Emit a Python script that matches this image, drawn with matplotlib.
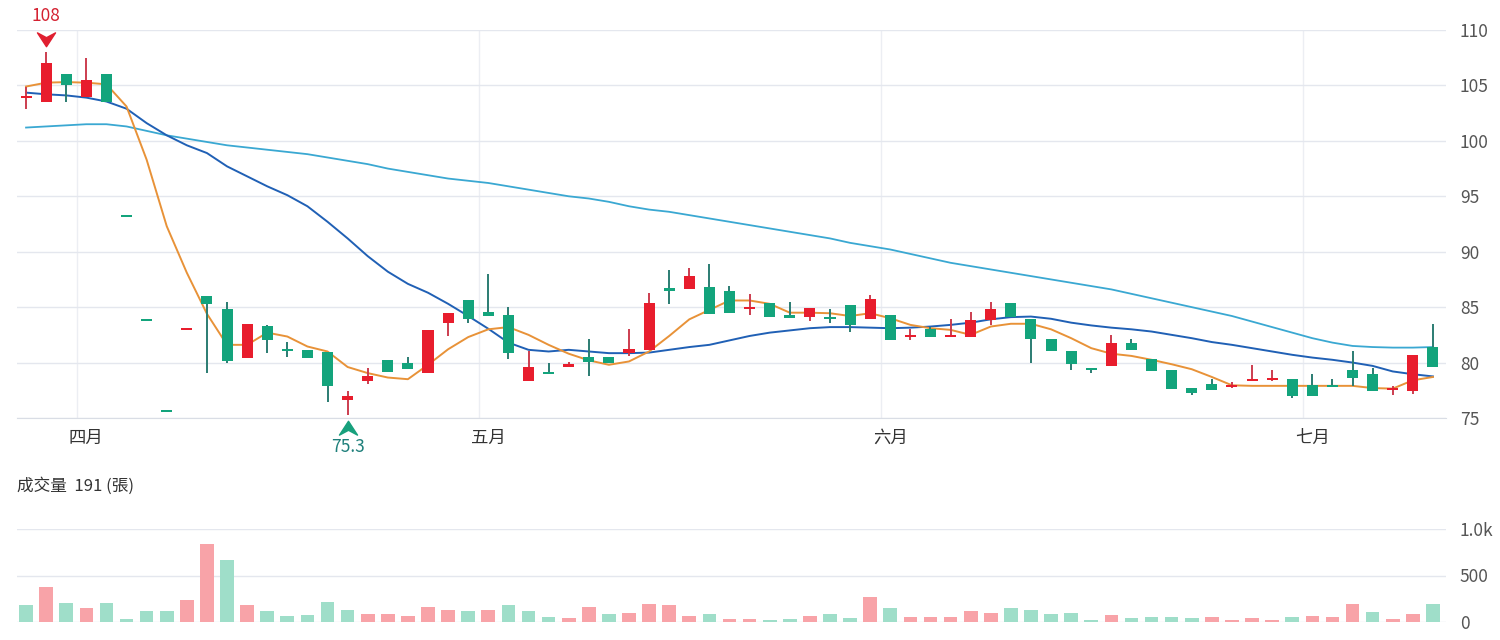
import matplotlib
matplotlib.use("Agg")
import matplotlib.pyplot as plt
from matplotlib.path import Path
from matplotlib.transforms import offset_copy
import numpy as np

plt.rcParams['font.family'] = ['Noto Sans CJK TC', 'DejaVu Sans']

# ---------------- data ----------------
opens = [103.95, 103.5, 106.0, 104.0, 106.0, 93.25, 83.9, 75.65, 83.0, 86.0,
         84.8, 80.4, 83.3, 81.15, 81.1, 80.95, 76.6, 78.3, 80.2, 80.0,
         79.05, 83.6, 85.6, 84.55, 84.3, 78.35, 79.1, 79.6, 80.5, 80.5,
         80.85, 81.1, 86.7, 86.6, 86.8, 86.5, 84.8, 85.4, 84.3, 84.15,
         84.1, 85.2, 83.9, 84.3, 82.35, 83.05, 82.35, 82.35, 83.85, 85.4,
         83.95, 82.1, 81.0, 79.5, 79.7, 81.8, 80.3, 79.3, 77.7, 78.1,
         77.85, 78.4, 78.45, 78.55, 77.95, 77.95, 79.35, 78.95, 77.55, 77.45,
         81.4]
closes = [104.05, 107.0, 105.0, 105.5, 103.5, 93.15, 83.8, 75.55, 83.1, 85.3,
          80.1, 83.5, 82.0, 81.05, 80.4, 77.85, 77.0, 78.8, 79.15, 79.45,
          82.95, 84.45, 83.95, 84.2, 80.85, 79.6, 79.05, 79.9, 80.05, 79.95,
          81.2, 85.35, 86.5, 87.8, 84.4, 84.45, 85.0, 84.1, 84.0, 84.9,
          83.95, 83.4, 85.7, 82.05, 82.45, 82.35, 82.4, 83.8, 84.8, 84.1,
          82.1, 81.0, 79.85, 79.3, 81.75, 81.1, 79.25, 77.6, 77.3, 77.55,
          77.95, 78.45, 78.6, 77.0, 77.0, 77.9, 78.65, 77.45, 77.65, 80.7,
          79.6]
highs = [104.9, 108.0, 106.0, 107.5, 106.0, 93.25, 83.9, 75.65, 83.1, 86.0,
         85.5, 83.5, 83.4, 81.9, 81.1, 80.95, 77.4, 79.5, 80.2, 80.5,
         82.95, 84.45, 85.65, 88.0, 85.0, 81.05, 79.95, 80.05, 82.15, 80.5,
         83.05, 86.25, 88.35, 88.5, 88.9, 86.9, 86.2, 85.4, 85.45, 84.9,
         84.8, 85.2, 86.1, 84.3, 83.05, 83.2, 83.95, 84.55, 85.45, 85.4,
         83.95, 82.1, 81.0, 79.5, 82.5, 82.1, 80.3, 79.3, 77.7, 78.55,
         78.25, 79.8, 79.3, 78.55, 78.95, 78.5, 81.0, 79.5, 77.85, 80.7,
         83.5]
lows = [102.9, 103.5, 103.5, 104.0, 103.5, 93.15, 83.8, 75.55, 83.0, 79.1,
        80.0, 80.4, 80.85, 80.5, 80.4, 76.4, 75.3, 78.05, 79.15, 79.45,
        79.05, 82.4, 83.6, 84.2, 80.35, 78.35, 79.05, 79.6, 78.8, 79.95,
        80.55, 81.1, 85.3, 86.6, 84.4, 84.45, 84.3, 84.1, 84.0, 83.75,
        83.6, 82.8, 83.9, 82.05, 82.05, 82.35, 82.35, 82.35, 83.4, 84.1,
        79.95, 81.0, 79.35, 79.05, 79.7, 81.1, 79.25, 77.6, 77.1, 77.55,
        77.7, 78.4, 78.3, 76.8, 77.0, 77.9, 77.9, 77.45, 77.1, 77.2,
        79.6]

ma5 = [104.9, 105.25, 105.3, 105.25, 105.1, 103.1, 98.3, 92.3, 88.1, 84.4,
       81.6, 81.6, 82.7, 82.35, 81.45, 81.0, 79.6, 79.05, 78.65, 78.5,
       79.8, 81.2, 82.3, 83.0, 83.2, 82.5, 81.6, 80.8, 80.2, 79.8,
       80.1, 81.0, 82.4, 83.9, 84.75, 85.6, 85.6, 85.3, 84.5, 84.5,
       84.45, 84.2, 84.45, 84.0, 83.4, 83.1, 82.95, 82.5, 83.25, 83.5,
       83.5, 83.0, 82.2, 81.3, 80.8, 80.6, 80.25, 79.85, 79.4, 78.7,
       77.95, 77.9, 77.9, 77.9, 77.9, 77.9, 77.9, 77.7, 77.65, 78.4,
       78.7]
ma20 = [104.35, 104.2, 104.1, 103.9, 103.55, 102.9, 101.6, 100.5, 99.6, 98.9,
        97.7, 96.8, 95.9, 95.1, 94.1, 92.7, 91.2, 89.6, 88.2, 87.1,
        86.3, 85.3, 84.2, 83.05, 81.8, 81.15, 81.0, 81.15, 81.0, 80.85,
        80.85, 80.9, 81.15, 81.4, 81.6, 82.0, 82.4, 82.7, 82.9, 83.1,
        83.2, 83.2, 83.15, 83.1, 83.15, 83.25, 83.4, 83.6, 83.9, 84.1,
        84.15, 83.95, 83.6, 83.35, 83.15, 83.0, 82.8, 82.5, 82.2, 81.85,
        81.6, 81.3, 81.0, 80.7, 80.45, 80.25, 80.0, 79.7, 79.2, 78.95,
        78.75]
ma60 = [101.2, 101.3, 101.4, 101.5, 101.5, 101.3, 100.9, 100.5, 100.2, 99.9,
        99.6, 99.4, 99.2, 99.0, 98.8, 98.5, 98.2, 97.9, 97.5, 97.2,
        96.9, 96.6, 96.4, 96.2, 95.9, 95.6, 95.3, 95.0, 94.8, 94.5,
        94.1, 93.8, 93.6, 93.3, 93.0, 92.7, 92.4, 92.1, 91.8, 91.5,
        91.2, 90.8, 90.5, 90.2, 89.8, 89.4, 89.0, 88.7, 88.4, 88.1,
        87.8, 87.5, 87.2, 86.9, 86.6, 86.2, 85.8, 85.4, 85.0, 84.6,
        84.2, 83.7, 83.2, 82.7, 82.2, 81.8, 81.5, 81.4, 81.35, 81.35,
        81.4]

volumes = [187, 373, 204, 155, 204, 28, 123, 120, 236, 842,
           669, 183, 113, 63, 77, 218, 134, 85, 81, 67,
           165, 134, 120, 134, 183, 123, 49, 46, 162, 88,
           92, 197, 180, 67, 88, 35, 28, 25, 35, 63,
           88, 46, 268, 151, 49, 53, 53, 123, 95, 155,
           134, 88, 92, 18, 74, 39, 49, 49, 39, 49,
           18, 39, 18, 49, 67, 56, 194, 106, 32, 88,
           191]
vol_dir = "GRGRGGGGRR" "GRGGGGGRRR" "RRGRGGGRRG" "RRRRGRRGGR" "GGRGRRRRRG" \
          "GGGGRGGGGR" "RRRGRRRGRR" "G"

month_labels = ['四月', '五月', '六月', '七月']
month_index = [3, 23, 43, 64]
price_ticks = [75, 80, 85, 90, 95, 100, 105, 110]
vol_ticks = [0, 500, 1000]
vol_tick_labels = ['0', '500', '1.0k']
last_volume = 191
high_value = 108
high_index = 1
low_value = 75.3
low_index = 16

# ---------------- style ----------------
RED = '#e81d2d'
GREEN = '#13a47c'
RED_WICK = '#cc3d4f'
GREEN_WICK = '#2b7c72'
VRED = '#f8a3a8'
VGREEN = '#9fdec9'
GRID = '#e4e7ee'
TXT = '#555555'

fig = plt.figure(figsize=(15, 6.4), dpi=100)
ax = fig.add_axes([17/1500, 1-418/640, (1446-17)/1500, 388/640])
axv = fig.add_axes([17/1500, 1-622/640, (1446-17)/1500, 93/640])

n = len(opens)
x = np.arange(n)

for a in (ax, axv):
    a.set_xlim(-0.45, 70.65)
    for s in ('top', 'left', 'right'):
        a.spines[s].set_visible(False)
    a.spines['bottom'].set_color('#d9dde5')
    a.yaxis.tick_right()
    a.tick_params(axis='y', length=0, pad=10, labelsize=12.5, labelcolor=TXT)
    a.set_axisbelow(True)

# month grid lines
for mi in month_index:
    ax.axvline(mi - 0.45, color='#eceef3', lw=1, zorder=0)

ax.set_ylim(75, 110)
ax.set_yticks(price_ticks)
ax.yaxis.grid(True, color=GRID, lw=1)
ax.set_xticks(month_index)
ax.set_xticklabels(month_labels, fontsize=12.5, color='#333333')
ax.tick_params(axis='x', length=0, pad=8)

# moving averages
ax.plot(x, ma60, color='#3aa8d2', lw=1.3, zorder=2)
ax.plot(x, ma20, color='#2060b5', lw=1.4, zorder=2)
ax.plot(x, ma5, color='#e89238', lw=1.4, zorder=2)

# candles
for i in range(n):
    up = closes[i] >= opens[i]
    body_c = RED if up else GREEN
    wick_c = RED_WICK if up else GREEN_WICK
    ax.vlines(x[i], lows[i], highs[i], color=wick_c, lw=1.4, zorder=3)
    lo = min(opens[i], closes[i])
    h = max(abs(closes[i] - opens[i]), 0.18)
    if abs(closes[i] - opens[i]) < 0.18:
        lo = (opens[i] + closes[i]) / 2 - 0.09
    ax.bar(x[i], h, bottom=lo, width=0.55, color=body_c, zorder=4, linewidth=0)

# high / low markers
chev_down = Path([(0, -0.6), (-0.75, 0.55), (0, 0.15), (0.75, 0.55), (0, -0.6)],
                 [Path.MOVETO, Path.LINETO, Path.LINETO, Path.LINETO, Path.CLOSEPOLY])
chev_up = Path([(0, 0.6), (-0.75, -0.55), (0, -0.15), (0.75, -0.55), (0, 0.6)],
               [Path.MOVETO, Path.LINETO, Path.LINETO, Path.LINETO, Path.CLOSEPOLY])
tr_hi = offset_copy(ax.transData, fig=fig, x=0, y=9.5, units='points')
ax.plot([x[high_index]], [high_value], marker=chev_down, ms=13, color='#e01f30',
        transform=tr_hi, clip_on=False, zorder=6)
ax.annotate(f'{high_value:g}', (x[high_index], high_value), xytext=(0, 26),
            textcoords='offset points', ha='center', va='center',
            fontsize=12.5, color='#d42030', annotation_clip=False)
tr_lo = offset_copy(ax.transData, fig=fig, x=0, y=-9.5, units='points')
ax.plot([x[low_index]], [low_value], marker=chev_up, ms=13, color='#17a07c',
        transform=tr_lo, clip_on=False, zorder=6)
ax.annotate(f'{low_value:g}', (x[low_index], low_value), xytext=(0, -23),
            textcoords='offset points', ha='center', va='center',
            fontsize=12.5, color='#1d7f7a', annotation_clip=False)

# volume
vcols = [VRED if d == 'R' else VGREEN for d in vol_dir]
axv.bar(x, volumes, width=0.68, color=vcols, linewidth=0, zorder=3)
axv.set_ylim(0, 1000)
axv.set_yticks(vol_ticks)
axv.set_yticklabels(vol_tick_labels)
axv.yaxis.grid(True, color=GRID, lw=1)
axv.set_xticks([])
axv.spines['bottom'].set_visible(False)

fig.text(17/1500, 1-486/640, f'成交量  {last_volume} (張)', fontsize=12,
         color='#333333', va='center', ha='left')

fig.savefig('out.png', dpi=100, facecolor='white')
